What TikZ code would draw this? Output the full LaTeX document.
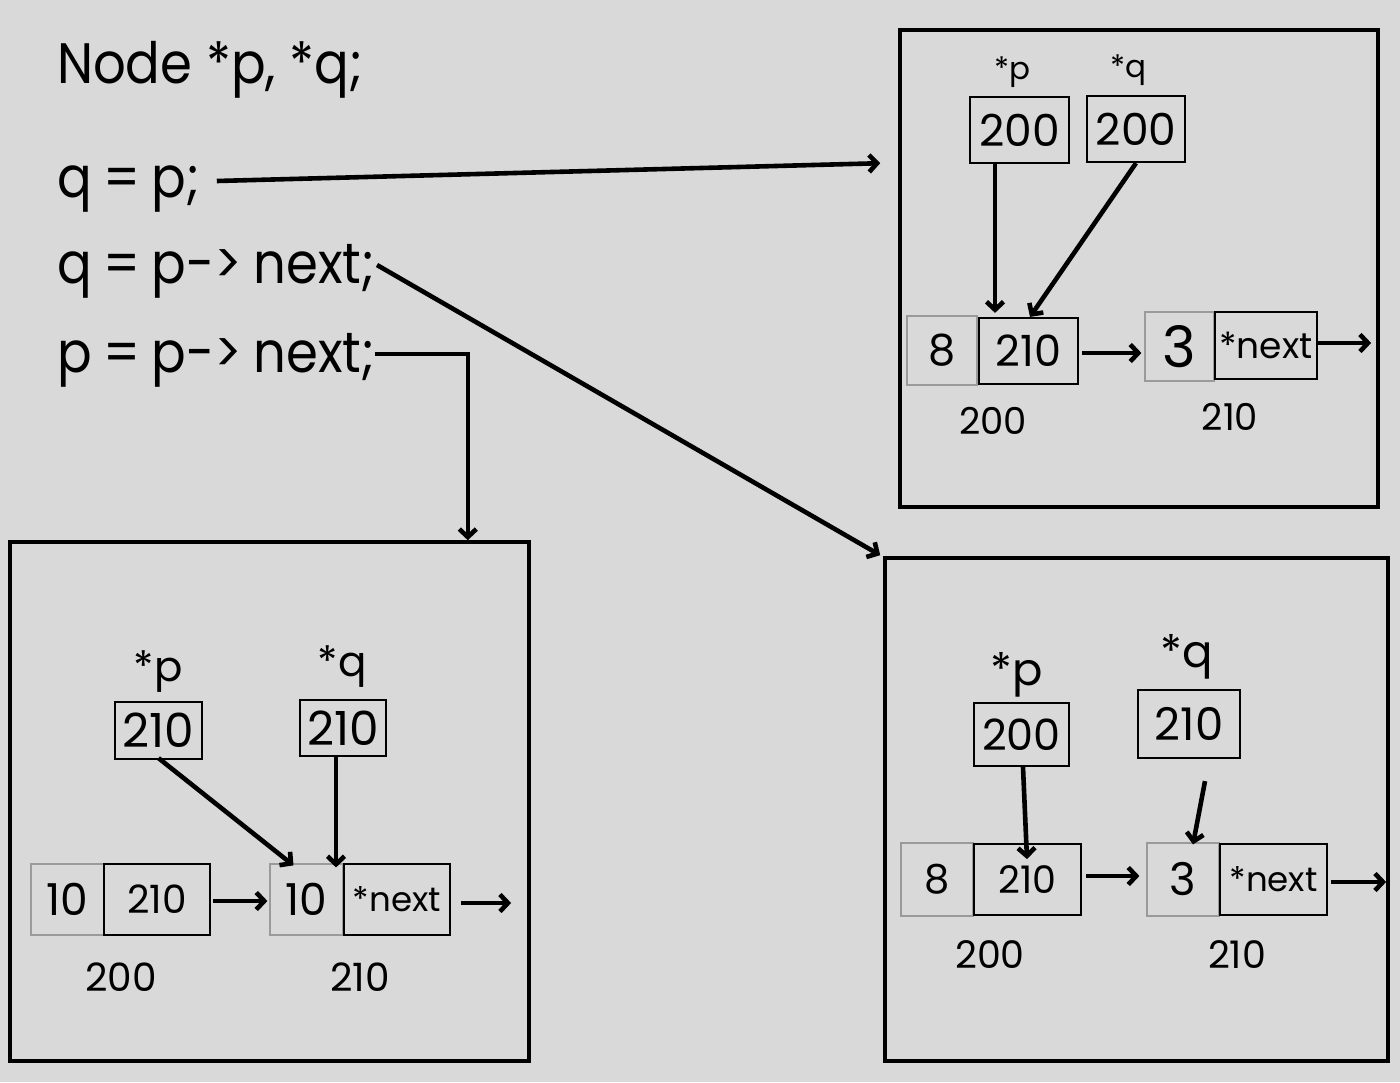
\documentclass[tikz,border=0pt]{standalone}
\usepackage{fontspec}
\setmainfont{Poppins}
\newfontfamily\codefont[FakeStretch=0.9]{Poppins}
\usetikzlibrary{arrows.meta}
\definecolor{bg}{HTML}{D9D9D9}
\definecolor{thin}{HTML}{9A9A9A}
\newcommand{\fs}[1]{\fontsize{#1}{#1}\selectfont}
\newcommand{\codeline}{\fs{57}\codefont\spaceskip=0.2em plus 0.05em\relax}
\begin{document}
\begin{tikzpicture}[x=1pt,y=-1pt,
 txt/.style={inner sep=0pt, outer sep=0pt},
 frame/.style={draw=black, line width=3.6pt, inner sep=0pt},
 ptr/.style={draw=black, line width=2.2pt, inner sep=0pt},
 val/.style={draw=thin, line width=1.2pt, inner sep=0pt},
 arr/.style={line width=4.6pt, -{Straight Barb[length=8pt,width=17pt]}},
 ]
\fill[bg] (0,0) rectangle (1400,1082);
\useasboundingbox (0,0) rectangle (1400,1082);

% code lines
\node[txt, anchor=base west] (t1) at (57,83) {\fs{57}\codefont Node *p, *q;};
\node[txt, anchor=base west] (t2) at (57,197) {\codeline q = p;};
\node[txt, anchor=base west] (t3) at (57,283) {\codeline q = p-> next;};
\node[txt, anchor=base west] (t4) at (57,372) {\codeline p = p-> next;};

% top right
\node[frame, minimum width=478, minimum height=477] (TR) at (1139,268.5) {};
\node[txt] (TRpl) at (1012,72) {\fs{31}*p};
\node[txt] (TRql) at (1128,70) {\fs{31}*q};
\node[ptr, minimum width=99, minimum height=66] (TRp) at (1019.5,130) {\fs{44}200};
\node[ptr, minimum width=98, minimum height=66] (TRq) at (1136,129) {\fs{44}200};
\node[val, minimum width=70, minimum height=69] (TRa) at (942,350.5) {\fs{43}8};
\node[ptr, minimum width=99, minimum height=66] (TRb) at (1028.5,351) {\fs{43}210};
\node[val, minimum width=69, minimum height=69] (TRc) at (1179.5,346.5) {\fs{57}3};
\node[ptr, minimum width=102, minimum height=67] (TRd) at (1266,345.5) {\fs{36}*next};
\node[txt] (TRl1) at (993,421) {\fs{37}200};
\node[txt] (TRl2) at (1230,417) {\fs{37}210};
\draw[arr] ([shift={(-24.5,0)}]TRp.south) -- ([shift={(-33.5,-4)}]TRb.north);
\draw[arr] (TRq.south) -- ([shift={(1.5,0)}]TRb.north);
\draw[arr, shorten <=3, shorten >=3] ([yshift=-2]TRb.east) -- ([yshift=-2]TRb.east -| TRc.west);
\draw[arr] ([shift={(0,-2.5)}]TRd.east) -- ++(53,0);

% bottom left
\node[frame, minimum width=519, minimum height=519] (BL) at (269.5,801.5) {};
\node[txt] (BLpl) at (158,672) {\fs{42}*p};
\node[txt] (BLql) at (342,667) {\fs{42}*q};
\node[ptr, minimum width=87, minimum height=57] (BLp) at (158.5,730.5) {\fs{47}210};
\node[ptr, minimum width=86, minimum height=56] (BLq) at (343,728) {\fs{47}210};
\node[val, minimum width=73, minimum height=71] (BLa) at (67.5,899.5) {\fs{44}10};
\node[ptr, minimum width=106, minimum height=71] (BLb) at (157,899.5) {\fs{39}210};
\node[val, minimum width=73, minimum height=71] (BLc) at (306.5,899.5) {\fs{44}10};
\node[ptr, minimum width=106, minimum height=71] (BLd) at (397,899.5) {\fs{34}*next};
\node[txt] (BLl1) at (121,977) {\fs{39}200};
\node[txt] (BLl2) at (360,977) {\fs{39}210};
\draw[arr, shorten <=2, shorten >=2] ([yshift=-1.5]BLb.east) -- ([yshift=-1.5]BLb.east -| BLc.west);
\draw[arr] ([shift={(10,3.5)}]BLd.east) -- ++(50,0);
\draw[arr] ([shift={(0,-2)}]BLp.south) -- ([shift={(-13,2)}]BLc.north);
\draw[arr] ([shift={(-7,0)}]BLq.south) -- ([shift={(29.5,4)}]BLc.north);

% bottom right
\node[frame, minimum width=503, minimum height=503] (BR) at (1136.5,809.5) {};
\node[txt] (BRpl) at (1017,675) {\fs{45}*p};
\node[txt] (BRql) at (1187,657) {\fs{45}*q};
\node[ptr, minimum width=95, minimum height=63] (BRp) at (1021.5,734.5) {\fs{43}200};
\node[ptr, minimum width=102, minimum height=68] (BRq) at (1189,724) {\fs{45}210};
\node[val, minimum width=72, minimum height=73] (BRa) at (937,879.5) {\fs{40}8};
\node[ptr, minimum width=107, minimum height=71] (BRb) at (1027.5,879.5) {\fs{38}210};
\node[val, minimum width=72, minimum height=73] (BRc) at (1183,879.5) {\fs{45}3};
\node[ptr, minimum width=107, minimum height=71] (BRd) at (1273.5,879.5) {\fs{34}*next};
\node[txt] (BRl1) at (990,955) {\fs{38}200};
\node[txt] (BRl2) at (1237,955) {\fs{38}210};
\draw[arr, shorten <=4, shorten >=7] ([yshift=3.5]BRb.east) -- ([yshift=3.5]BRb.east -| BRc.west);
\draw[arr] ([shift={(3,2.5)}]BRd.east) -- ++(55,0);
\draw[arr] ([shift={(1.5,0)}]BRp.south) -- ([shift={(-0.5,-57)}]BRb.south);
\draw[arr] ([shift={(16,22)}]BRq.south) -- ([shift={(10,2)}]BRc.north);

% main connectors
\draw[arr] ([shift={(17,-16)}]t2.base east) -- ([shift={(-18,135)}]TR.north west);
\draw[arr] ([shift={(2,-18)}]t3.base east) -- ([shift={(-3,-1)}]BR.north west);
\draw[arr] ([shift={(0,-18)}]t4.base east) -| ([shift={(-63,0)}]BL.north east);
\end{tikzpicture}
\end{document}
